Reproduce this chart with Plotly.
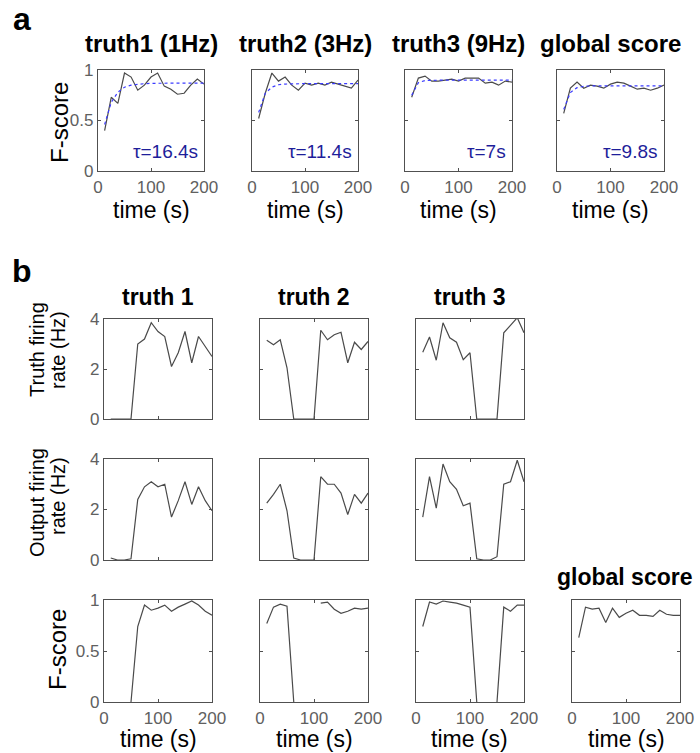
import plotly.graph_objects as go

# ---------------- data ----------------
times = [12.5, 25, 37.5, 50, 62.5, 75, 87.5, 100, 112.5, 125, 137.5, 150, 162.5, 175, 187.5, 200]

# panel a: F-score vs recording time
a_titles = ["truth1 (1Hz)", "truth2 (3Hz)", "truth3 (9Hz)", "global score"]
a_tau_labels = ["τ=16.4s", "τ=11.4s", "τ=7s", "τ=9.8s"]
a_truth1 = [0.40, 0.73, 0.67, 0.97, 0.93, 0.80, 0.85, 0.93, 0.97, 0.84, 0.81, 0.76, 0.77, 0.85, 0.91, 0.86]
a_truth2 = [0.52, 0.77, 0.97, 0.89, 0.93, 0.85, 0.80, 0.87, 0.85, 0.87, 0.85, 0.88, 0.86, 0.84, 0.82, 0.90]
a_truth3 = [0.73, 0.92, 0.94, 0.89, 0.89, 0.90, 0.91, 0.89, 0.92, 0.92, 0.92, 0.87, 0.88, 0.85, 0.89, 0.88]
a_global = [0.57, 0.82, 0.88, 0.82, 0.85, 0.84, 0.82, 0.86, 0.88, 0.87, 0.84, 0.81, 0.82, 0.80, 0.82, 0.85]
a_fit1 = [0.46, 0.68, 0.78, 0.83, 0.85, 0.86, 0.865, 0.868, 0.87, 0.87, 0.87, 0.87, 0.87, 0.87, 0.87, 0.87]
a_fit2 = [0.58, 0.77, 0.83, 0.854, 0.861, 0.864, 0.865, 0.865, 0.865, 0.865, 0.865, 0.865, 0.865, 0.865, 0.865, 0.865]
a_fit3 = [0.75, 0.875, 0.896, 0.899, 0.90, 0.90, 0.90, 0.90, 0.90, 0.90, 0.90, 0.90, 0.90, 0.90, 0.90, 0.90]
a_fitg = [0.61, 0.777, 0.825, 0.838, 0.842, 0.843, 0.843, 0.843, 0.843, 0.843, 0.843, 0.843, 0.843, 0.843, 0.843, 0.843]

# panel b: firing rates and F-scores per time bin
b_titles = ["truth 1", "truth 2", "truth 3"]
truth_rate1 = [0, 0, 0, 0, 3.0, 3.2, 3.85, 3.5, 3.3, 2.1, 2.65, 3.5, 2.25, 3.3, 2.9, 2.5]
truth_rate2 = [3.15, 2.97, 3.17, 2.05, 0, 0, 0, 0, 3.55, 3.17, 3.37, 3.47, 2.25, 3.07, 2.78, 3.1]
truth_rate3 = [2.67, 3.28, 2.35, 3.85, 3.25, 3.07, 2.37, 2.65, 0, 0, 0, 0, 3.45, 3.77, 4.05, 3.45]
out_rate1 = [0.08, 0.0, 0.0, 0.05, 2.4, 2.9, 3.1, 2.9, 3.0, 1.7, 2.35, 3.1, 2.2, 2.9, 2.35, 1.95]
out_rate2 = [2.25, 2.6, 3.0, 1.95, 0.08, 0, 0, 0, 3.3, 3.0, 3.0, 2.65, 1.8, 2.6, 2.25, 2.65]
out_rate3 = [1.7, 3.3, 2.05, 3.8, 3.1, 2.8, 2.15, 2.25, 0.05, 0, 0, 0.13, 3.0, 3.1, 3.95, 3.1]
nan = float("nan")
fscore1 = [0, nan, nan, 0, 0.74, 0.95, 0.90, 0.92, 0.95, 0.89, 0.93, 0.96, 0.99, 0.95, 0.89, 0.85]
fscore2 = [0.77, 0.93, 0.96, 0.94, 0, nan, nan, nan, 0.97, 0.98, 0.91, 0.87, 0.89, 0.92, 0.91, 0.92]
fscore3 = [0.74, 0.98, 0.96, 0.99, 0.98, 0.97, 0.95, 0.93, 0, nan, nan, 0, 0.93, 0.89, 0.95, 0.95]
fscore_global = [0.63, 0.93, 0.91, 0.92, 0.78, 0.92, 0.83, 0.87, 0.90, 0.85, 0.85, 0.84, 0.90, 0.86, 0.85, 0.85]

x_ticks = [0, 100, 200]
f_ticks = [0, 0.5, 1]
f_ticktext = ["0", "0.5", "1"]
rate_ticks = [0, 2, 4]

# ---------------- layout helpers ----------------
W, H = 700, 753
FONT = "Arial, Liberation Sans, sans-serif"
LINE_C = "#4a4a4a"
AX_C = "#505050"
TICK_C = "#606060"
FIT_C = "#3b3bff"
TAU_C = "#1e1e9a"

def px(x):
    return x / W

def py(y):
    return 1 - y / H

fig = go.Figure()
layout = {}
annotations = []
axis_n = [0]

def add_axes(box, yrange, yticks, yticktext, show_y, show_x):
    axis_n[0] += 1
    n = axis_n[0]
    sx = "" if n == 1 else str(n)
    x0, x1, y0, y1 = box
    common = dict(showline=True, mirror="ticks", linecolor=AX_C, linewidth=1.3,
                  ticks="inside", ticklen=3, tickcolor=AX_C, showgrid=False,
                  zeroline=False, tickfont=dict(family=FONT, size=17, color=TICK_C),
                  fixedrange=True, automargin=False)
    layout["xaxis" + sx] = dict(domain=[px(x0), px(x1)], anchor="y" + sx, range=[0, 200],
                                tickvals=x_ticks, showticklabels=show_x, **common)
    layout["yaxis" + sx] = dict(domain=[py(y1), py(y0)], anchor="x" + sx, range=yrange,
                                tickvals=yticks, ticktext=yticktext, showticklabels=show_y,
                                **common)
    return "x" + sx, "y" + sx

def text(x, y, s, size=20, bold=False, color="black", angle=0, xanchor="center", yanchor="middle"):
    if bold:
        s = "<b>" + s + "</b>"
    annotations.append(dict(x=px(x), y=py(y), xref="paper", yref="paper", text=s,
                            showarrow=False, textangle=angle, xanchor=xanchor, yanchor=yanchor,
                            font=dict(family=FONT, size=size, color=color)))

# ---------------- panel a ----------------
a_boxes = [(98, 204, 70, 171), (252, 358, 70, 171), (405, 512, 70, 171), (557, 664, 70, 171)]
a_data = [a_truth1, a_truth2, a_truth3, a_global]
a_fits = [a_fit1, a_fit2, a_fit3, a_fitg]
for i, box in enumerate(a_boxes):
    xa, ya = add_axes(box, [0, 1], f_ticks, f_ticktext, i == 0, True)
    fig.add_trace(go.Scatter(x=times, y=a_data[i], mode="lines", xaxis=xa, yaxis=ya,
                             line=dict(color=LINE_C, width=1.2), showlegend=False))
    fig.add_trace(go.Scatter(x=times, y=a_fits[i], mode="lines", xaxis=xa, yaxis=ya,
                             line=dict(color=FIT_C, width=1.2, dash="3px,3px"), showlegend=False))
    cx = (box[0] + box[1]) / 2
    text(cx, 44, a_titles[i], size=24, bold=True)
    text(cx, 210, "time (s)", size=23)
    text(box[1] - 4, 151, a_tau_labels[i], size=19, color=TAU_C, xanchor="right")
text(60, 123, "F-score", size=24, angle=-90)
text(22, 19, "a", size=32, bold=True)

# ---------------- panel b ----------------
cols_x = [(104, 212), (260, 368), (416, 524)]
rows_y = [(319, 419), (459, 560), (600, 702)]
rows_data = [[truth_rate1, truth_rate2, truth_rate3],
             [out_rate1, out_rate2, out_rate3],
             [fscore1, fscore2, fscore3]]
for r, (ry0, ry1) in enumerate(rows_y):
    for c, (cx0, cx1) in enumerate(cols_x):
        if r < 2:
            xa, ya = add_axes((cx0, cx1, ry0, ry1), [0, 4], rate_ticks, [str(v) for v in rate_ticks], c == 0, False)
        else:
            xa, ya = add_axes((cx0, cx1, ry0, ry1), [0, 1], f_ticks, f_ticktext, c == 0, True)
        fig.add_trace(go.Scatter(x=times, y=rows_data[r][c], mode="lines", xaxis=xa, yaxis=ya,
                                 line=dict(color=LINE_C, width=1.2), showlegend=False))
        if r == 2:
            text((cx0 + cx1) / 2, 739, "time (s)", size=23)
for c, (cx0, cx1) in enumerate(cols_x):
    text((cx0 + cx1) / 2, 297, b_titles[c], size=23, bold=True)

gbox = (572, 680, 600, 702)
xa, ya = add_axes(gbox, [0, 1], f_ticks, f_ticktext, False, True)
fig.add_trace(go.Scatter(x=times, y=fscore_global, mode="lines", xaxis=xa, yaxis=ya,
                         line=dict(color=LINE_C, width=1.2), showlegend=False))
text(626, 739, "time (s)", size=23)
text(624, 577, "global score", size=23, bold=True)

text(37, 350, "Truth firing", size=20, angle=-90)
text(58, 350, "rate (Hz)", size=20, angle=-90)
text(37, 503, "Output firing", size=20, angle=-90)
text(58, 496, "rate (Hz)", size=20, angle=-90)
text(57, 650, "F-score", size=24, angle=-90)
text(22, 271, "b", size=32, bold=True)

layout.update(dict(template="none", width=W, height=H, margin=dict(l=0, r=0, t=0, b=0, pad=0, autoexpand=False),
                   paper_bgcolor="white", plot_bgcolor="white",
                   annotations=annotations, showlegend=False))
fig.update_layout(**layout)
post = ("document.body.style.margin='0';document.body.style.padding='0';")
fig.write_html("out.html", post_script=post, config={"displayModeBar": False})
